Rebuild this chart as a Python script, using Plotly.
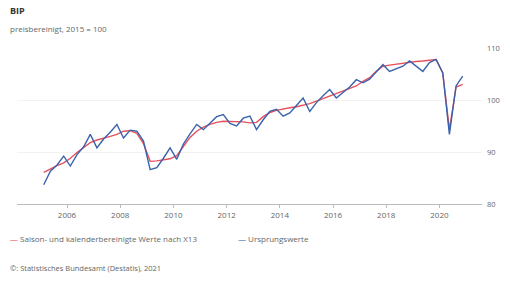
import plotly.graph_objects as go

years = list(range(2005, 2021))
quarters = [1, 2, 3, 4]

# Ursprungswerte (unadjusted), quarterly 2005Q1..2020Q4
original = [
    83.7, 86.3, 87.5, 89.2,
    87.3, 89.5, 91.0, 93.4,
    90.8, 92.5, 93.8, 95.3,
    92.7, 94.2, 94.0, 92.1,
    86.6, 87.0, 88.8, 90.8,
    88.6, 91.5, 93.5, 95.3,
    94.3, 95.5, 96.8, 97.2,
    95.5, 95.0, 96.5, 96.9,
    94.3, 96.2, 97.8, 98.2,
    96.9, 97.5, 99.0, 100.4,
    97.8, 99.5, 100.8, 102.0,
    100.4, 101.5, 102.5, 103.9,
    103.3, 104.0, 105.5, 106.8,
    105.5, 106.0, 106.5, 107.5,
    106.5, 105.5, 107.2, 107.8,
    105.2, 93.4, 102.7, 104.6,
]

# Saison- und kalenderbereinigt (X13)
adjusted = [
    86.1, 86.8, 87.4, 87.9,
    88.8, 89.9, 90.9, 91.8,
    92.3, 92.6, 93.0, 93.4,
    94.0, 94.1, 93.6, 91.6,
    88.2, 88.3, 88.5, 88.7,
    89.3, 91.0, 92.8, 94.0,
    94.8, 95.3, 95.7, 95.9,
    95.9, 95.9, 95.8, 95.6,
    95.7, 96.8, 97.6, 98.0,
    98.3, 98.5, 98.7, 99.0,
    99.3, 99.8, 100.3, 100.7,
    101.2, 101.8, 102.2, 102.7,
    103.6, 104.3, 105.5, 106.5,
    106.7, 106.9, 107.0, 107.2,
    107.4, 107.5, 107.6, 107.8,
    105.2, 94.3, 102.5, 103.0,
]

x_ticks = [2006, 2008, 2010, 2012, 2014, 2016, 2018, 2020]
y_ticks = [80, 90, 100, 110]

name_adj = "Saison- und kalenderbereinigte Werte nach X13"
name_orig = "Ursprungswerte"

x = [y + (q - 0.5) / 4 for y in years for q in quarters]

RED = "#e8505b"
BLUE = "#3a63ad"
FONT = "Open Sans"
GREY = "#666666"

fig = go.Figure()
fig.add_trace(go.Scatter(x=x, y=adjusted, mode="lines", name=name_adj,
                         line=dict(color=RED, width=1.4), showlegend=False))
fig.add_trace(go.Scatter(x=x, y=original, mode="lines", name=name_orig,
                         line=dict(color=BLUE, width=1.4), showlegend=False))

fig.update_layout(
    width=510, height=282,
    margin=dict(l=17, r=28, t=48, b=78),
    paper_bgcolor="white", plot_bgcolor="white",
    font=dict(family=FONT, size=8, color=GREY),
    xaxis=dict(range=[2004.12, 2021.6], tickvals=x_ticks,
               ticktext=[str(t) for t in x_ticks],
               showgrid=False, showline=True, linecolor="#bbbbbb", linewidth=1,
               ticks="outside", ticklen=3, tickcolor="#bbbbbb",
               zeroline=False, tickfont=dict(size=8, color=GREY)),
    yaxis=dict(range=[80, 110], tickvals=y_ticks, side="right",
               showgrid=True, gridcolor="#f2f2f2", zeroline=False,
               showline=False, tickfont=dict(size=7.5, color=GREY),
               ticklabelstandoff=4, automargin=False),
    annotations=[
        dict(text="<b>BIP</b>", showarrow=False),
        dict(text="preisbereinigt, 2015 = 100", showarrow=False),
        dict(text=f"<span style='color:{RED}'>—</span> {name_adj}", showarrow=False),
        dict(text=f"<span style='color:{BLUE}'>—</span> {name_orig}", showarrow=False),
        dict(text="©: Statistisches Bundesamt (Destatis), 2021", showarrow=False),
    ],
)

# place annotations in pixel-like paper fractions
W, H = 510, 282
pw, ph = W - 17 - 28, H - 48 - 78
def px(xp):
    return (xp - 17) / pw
def py(yp):
    return (H - 78 - yp) / ph

specs = [
    (8, 10, 9, "#333333"),
    (8, 28, 8, GREY),
    (8, 238, 8, GREY),
    (236, 238, 8, GREY),
    (8, 268, 7.5, GREY),
]
anns = list(fig.layout.annotations)
for a, (xp, yp, fs, col) in zip(anns, specs):
    a.update(xref="paper", yref="paper", x=px(xp), y=py(yp),
             xanchor="left", yanchor="middle",
             font=dict(family=FONT, size=fs, color=col))
fig.layout.annotations = anns

fig.write_html("out.html",
               config={"displayModeBar": False},
               post_script="document.body.style.margin='0';document.body.style.overflow='hidden';")
